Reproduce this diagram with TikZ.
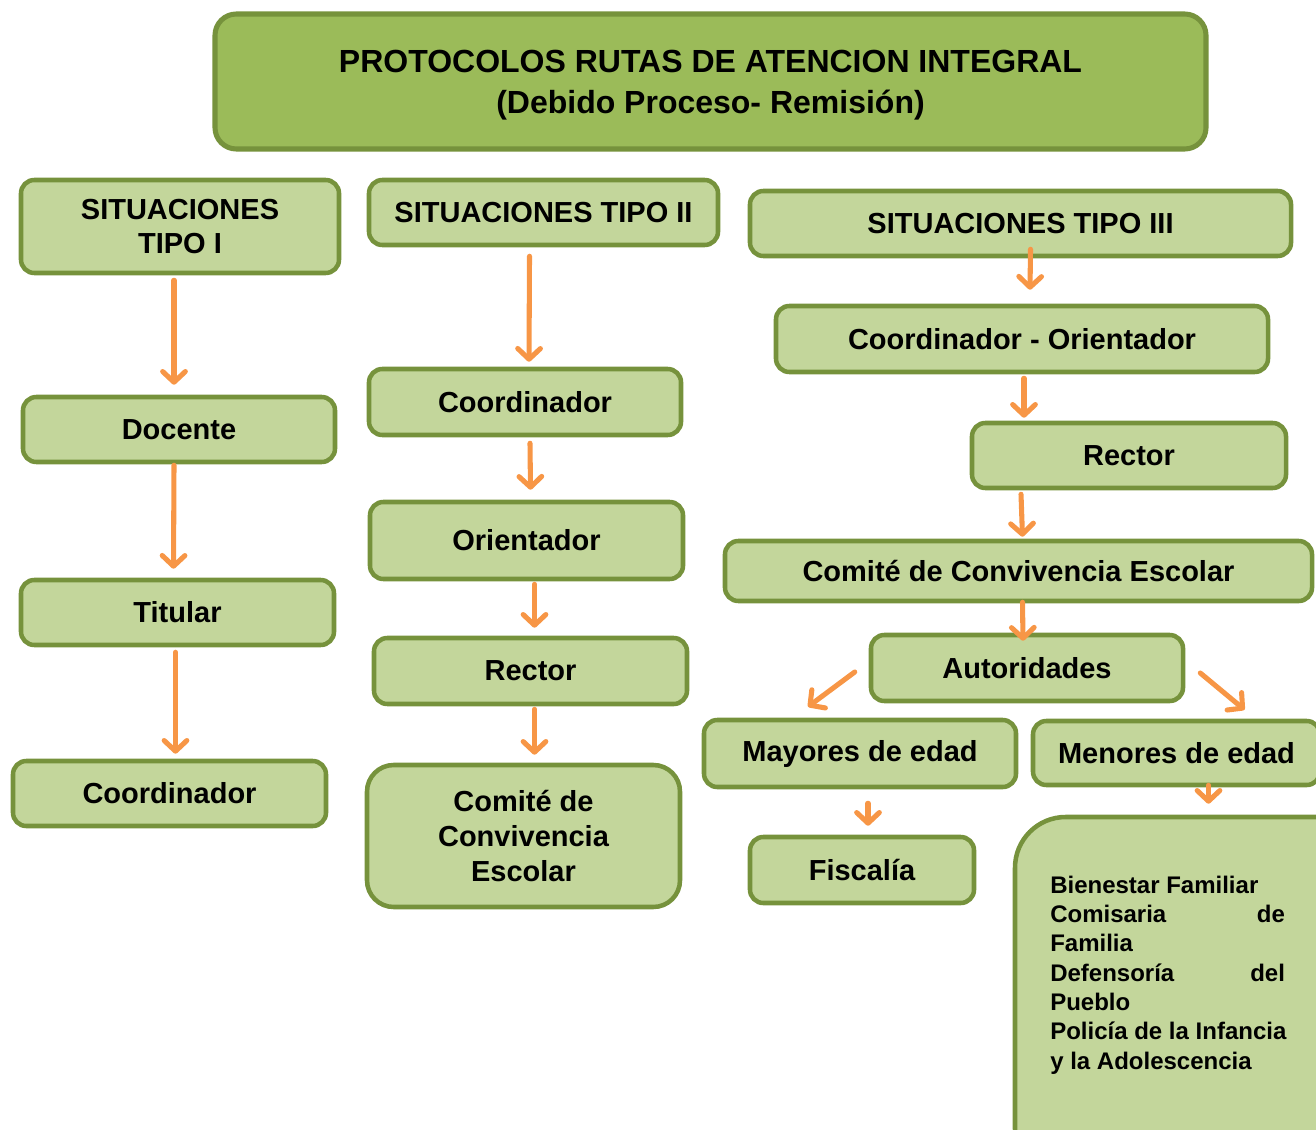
\documentclass[tikz,border=0pt]{standalone}
\usepackage{fontspec}
\setmainfont{Liberation Sans}
\usetikzlibrary{arrows.meta,calc}
\definecolor{boxfill}{HTML}{C3D69B}
\definecolor{boxline}{HTML}{76923C}
\definecolor{titlefill}{HTML}{9BBB59}
\definecolor{arrorange}{HTML}{F79646}
\begin{document}
\begin{tikzpicture}[x=0.75pt,y=-0.75pt,
  sz/.style 2 args={minimum width=#1*0.75pt, minimum height=#2*0.75pt},
  box/.style={draw=boxline, fill=boxfill, line width=3.4pt, rounded corners=10pt,
    inner sep=0pt, align=center, font=\bfseries\fontsize{21.75}{24.75}\selectfont},
  titlebox/.style={box, fill=titlefill, line width=3.8pt, rounded corners=16pt,
    font=\bfseries\fontsize{24}{30}\selectfont},
  arr/.style={draw=arrorange, line width=3.8pt, line cap=round,
    -{Straight Barb[length=8pt,width=17pt,round]}}]
\useasboundingbox (0,0) rectangle (1316,1130);
\clip (0,0) rectangle (1316,1130);
% title
\node[titlebox, sz={991}{135}] (title) at (710.5,81.5) {\raisebox{-2.5pt}[\height][\depth]{\begin{tabular}{@{}c@{}}PROTOCOLOS RUTAS DE ATENCION INTEGRAL\\[0.5pt](Debido Proceso- Remisión)\end{tabular}}};
% column 1
\node[box, sz={318}{93}, font=\bfseries\fontsize{21.75}{25}\selectfont] (s1) at (180,226.5) {SITUACIONES\\TIPO I};
\node[box, sz={312}{65}] (doc) at (179,429.5) {Docente};
\node[box, sz={313}{65}] (tit) at (177.5,612.5) {Titular};
\node[box, sz={313}{65}] (co1) at (169.5,793.5) {Coordinador};
% column 2
\node[box, sz={349}{65}] (s2) at (543.5,212.5) {SITUACIONES TIPO II};
\node[box, sz={312}{66}] (co2) at (525,402) {Coordinador};
\node[box, sz={313}{77}] (ori) at (526.5,540.5) {Orientador};
\node[box, sz={313}{66}] (re2) at (530.5,671) {Rector};
\node[box, sz={313}{142}, rounded corners=20pt, font=\bfseries\fontsize{21.75}{26}\selectfont] (cm2) at (523.5,836) {Comité de\\Convivencia\\Escolar};
% column 3
\node[box, sz={541}{65}] (s3) at (1020.5,223.5) {SITUACIONES TIPO III};
\node[box, sz={492}{66}] (cor) at (1022,339) {Coordinador - Orientador};
\node[box, sz={314}{65}] (re3) at (1129,455.5) {Rector};
\node[box, sz={587}{60}] (cm3) at (1018.5,571) {Comité de Convivencia Escolar};
\node[box, sz={312}{66}] (aut) at (1027,668) {Autoridades};
\node[box, sz={312}{67}] (may) at (860,753.5) {Mayores de edad};
\node[box, sz={287}{64}] (men) at (1176.5,753) {Menores de edad};
\node[box, sz={224}{66}] (fis) at (862,870) {Fiscalía};
\node[box, sz={365}{363}, rounded corners=38pt] (bie) at (1197.5,998.5) {};
\node[anchor=west, align=left, inner sep=0pt, font=\bfseries\fontsize{18}{22}\selectfont] (bietxt) at (1050,975)
 {Bienestar Familiar\\ \hbox to 176pt{Comisaria\hfill de}\\ Familia\\ \hbox to 176pt{Defensoría\hfill del}\\ Pueblo\\ Policía de la Infancia\\ y la Adolescencia};
% arrows column 1
\draw[arr] ($(s1.south)+(-6,5)$) -- ($(doc.north)+(-5,-10)$);
\draw[arr] ($(doc.south)+(-5,1)$) -- ($(tit.north)+(-4,-9)$);
\draw[arr] ($(tit.south)+(-2,5)$) -- ($(co1.north)+(6,-5)$);
% arrows column 2
\draw[arr] ($(s2.south)+(-14,9)$) -- ($(co2.north)+(4,-5)$);
\draw[arr] ($(co2.south)+(5,6)$) -- ($(ori.north)+(4,-10)$);
\draw[arr] ($(ori.south)+(8,3)$) -- ($(re2.north)+(4,-8)$);
\draw[arr] ($(re2.south)+(4,3)$) -- ($(cm2.north)+(11,-8)$);
% arrows column 3
\draw[arr] ($(s3.south)+(10,-9)$) -- ($(cor.north)+(8,-14)$);
\draw[arr] ($(cor.south)+(2,4)$) -- ($(re3.north)+(-105,-3)$);
\draw[arr] ($(re3.south)+(-108,4)$) -- ($(cm3.north)+(4,-2)$);
\draw[arr] ($(cm3.south)+(4,-1)$) -- ($(aut.north)+(-4,8)$);
\draw[arr] ($(aut.west)+(-14,4)$) -- ($(may.north)+(-52,-11)$);
\draw[arr] ($(aut.east)+(15,5)$) -- ($(men.north)+(68,-9)$);
\draw[arr] ($(may.south)+(8,14)$) -- ($(fis.north)+(6,-9)$);
\draw[arr] ($(men.south)+(32,-2)$) -- ($(bie.north)+(11,-11)$);
\end{tikzpicture}
\end{document}
